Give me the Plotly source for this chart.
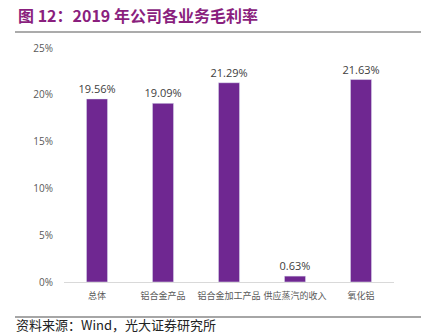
import plotly.graph_objects as go

categories = ["总体", "铝合金产品", "铝合金加工产品", "供应蒸汽的收入", "氧化铝"]
values = [19.56, 19.09, 21.29, 0.63, 21.63]
tick_vals = [0, 5, 10, 15, 20, 25]
tick_text = ["0%", "5%", "10%", "15%", "20%", "25%"]

bar_color = "#6F2791"
title_color = "#8A1F7E"

fig = go.Figure()
fig.add_trace(go.Bar(
    x=categories, y=values,
    marker=dict(color=bar_color),
    width=0.32,
    text=[f"{v:.2f}%" for v in values],
    textposition="outside",
    constraintext="none",
    textfont=dict(family="Open Sans, Noto Sans CJK SC", size=11, color="#404040"),
    cliponaxis=False,
))

fig.update_layout(
    width=435, height=334,
    margin=dict(l=64, r=41, t=48, b=52),
    paper_bgcolor="white", plot_bgcolor="white",
    showlegend=False,
    xaxis=dict(
        showgrid=False, showline=True, linecolor="#D9D9D9", linewidth=1,
        ticks="", tickangle=0, ticklabelstandoff=5,
        tickfont=dict(family="Noto Sans CJK SC", size=9, color="#595959"),
    ),
    yaxis=dict(
        range=[0, 25], tickvals=tick_vals, ticktext=tick_text,
        showgrid=False, zeroline=False, showline=False, ticks="",
        tickfont=dict(family="Open Sans, Noto Sans CJK SC", size=10, color="#595959"),
        ticklabelstandoff=10,
    ),
)

fig.add_annotation(
    text="<b>图 12：2019 年公司各业务毛利率</b>",
    xref="paper", yref="paper", x=-48/330, y=1 + 33/234, xanchor="left", yanchor="middle",
    showarrow=False, font=dict(family="Noto Sans CJK SC", size=16, color=title_color),
)

fig.add_shape(type="line", xref="paper", yref="paper",
              x0=-49/330, x1=357/330, y0=1 + 16/234, y1=1 + 16/234,
              line=dict(color="#595959", width=1.2))
fig.add_shape(type="line", xref="paper", yref="paper",
              x0=-49/330, x1=357/330, y0=-35/234, y1=-35/234,
              line=dict(color="#A6A6A6", width=2))

fig.add_annotation(
    text="资料来源：Wind，光大证券研究所",
    xref="paper", yref="paper", x=-50/330, y=-42/234, xanchor="left", yanchor="middle",
    showarrow=False, font=dict(family="Noto Sans CJK SC", size=13, color="#222222"),
)

fig.write_html("out.html")
